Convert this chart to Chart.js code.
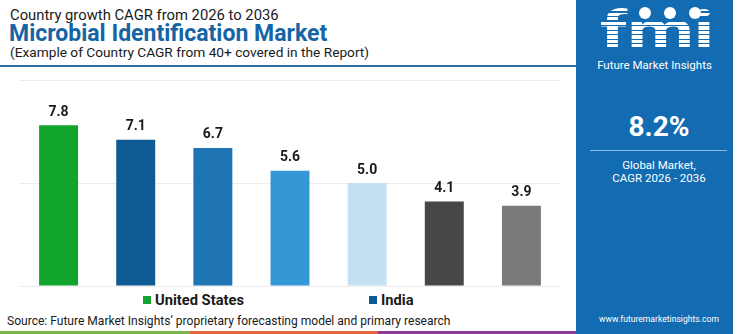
<!DOCTYPE html>
<html>
<head>
<meta charset="utf-8">
<script src="https://cdn.jsdelivr.net/npm/chart.js@4.4.1/dist/chart.umd.min.js"></script>
<style>
  html, body { margin: 0; padding: 0; background: #fff; }
  body { width: 750px; height: 334px; position: relative; overflow: hidden; font-family: Roboto, sans-serif; color: #1a1a1a; }
  .t1 { position: absolute; left: 10px; top: 6px; font-size: 14.8px; white-space: nowrap; }
  .t2 { position: absolute; left: 9px; top: 20px; font-size: 23px; font-weight: 700; color: #1565a6; white-space: nowrap; }
  .t3 { position: absolute; left: 10px; top: 44px; font-size: 13.7px; white-space: nowrap; }
  .rule { position: absolute; left: 0; top: 65px; width: 576px; height: 2px; background: #2d6fa6; }
  #wrap { position: absolute; left: 0; top: 70px; width: 576px; height: 220px; }
  .leg { position: absolute; top: 291px; font-size: 14.7px; font-weight: 700; white-space: nowrap; }
  .leg i { display: inline-block; width: 8px; height: 8px; margin-right: 4px; vertical-align: 1px; }
  .src { position: absolute; left: 7px; top: 314px; font-size: 12.05px; white-space: nowrap; }
  .stripe { position: absolute; top: 331px; height: 3px; }
  .panel { position: absolute; left: 576px; top: 0; width: 157px; height: 334px; background: #136cb1; color: #fff; }
  .logo { position: absolute; left: 24px; top: 4px; font-size: 54px; font-weight: 700; line-height: 1;
          transform: scale(1.42, 1); transform-origin: left top;
          background: repeating-linear-gradient(to bottom, #fff 0 3px, transparent 3px 4.5px);
          -webkit-background-clip: text; background-clip: text; color: transparent; }
  .dot { position: absolute; top: 7px; width: 12px; height: 12px; border-radius: 50%; background: #fff; }
  .fmi { position: absolute; left: 0; width: 157px; top: 58px; text-align: center; font-size: 11.5px; }
  .big { position: absolute; left: 9px; width: 148px; top: 110px; text-align: center; font-size: 28px; font-weight: 700; }
  .pline { position: absolute; left: 14px; top: 150px; width: 137px; height: 1px; background: #8ab9e2; }
  .glob { position: absolute; left: 9px; width: 148px; top: 159px; text-align: center; font-size: 11.5px; line-height: 13px; }
  .www { position: absolute; left: 9px; width: 148px; top: 314px; text-align: center; font-size: 8.6px; }
</style>
</head>
<body>
<div class="t1">Country growth CAGR from 2026 to 2036</div>
<div class="t2">Microbial Identification Market</div>
<div class="t3">(Example of Country CAGR from 40+ covered in the Report)</div>
<div class="rule"></div>

<div id="wrap"><canvas id="chart"></canvas></div>

<div class="leg" style="left:143px"><i style="background:#12a52d"></i>United States</div>
<div class="leg" style="left:369px"><i style="background:#0e5a93"></i>India</div>

<div class="src">Source: Future Market Insights’ proprietary forecasting model and primary research</div>
<div class="stripe" style="left:0;width:190px;background:#7cb548"></div>
<div class="stripe" style="left:190px;width:188px;background:#e0683a"></div>
<div class="stripe" style="left:378px;width:198px;background:#8d3b94"></div>

<div class="panel">
  <div class="logo">fmi</div>
  <div class="dot" style="left:63px"></div>
  <div class="dot" style="left:88px"></div>
  <div class="dot" style="left:113px"></div>
  <div class="fmi">Future Market Insights</div>
  <div class="big">8.2%</div>
  <div class="pline"></div>
  <div class="glob">Global Market,<br>CAGR 2026 - 2036</div>
  <div class="www">www.futuremarketinsights.com</div>
</div>

<script>
// ================= DATA =================
const countries = ["United States", "India", "", "", "", "", ""];
const cagr = [7.8, 7.1, 6.7, 5.6, 5.0, 4.1, 3.9];
const barColors = ["#12a52d", "#0e5a93", "#1f74b3", "#3497d6", "#c4e1f3", "#474747", "#7a7a7a"];
const yTicks = [0, 5, 10];

// ---- value labels above bars ----
const valueLabels = {
  id: "valueLabels",
  afterDatasetsDraw(chart) {
    const ctx = chart.ctx;
    const meta = chart.getDatasetMeta(0);
    ctx.save();
    ctx.font = "bold 14px Roboto, sans-serif";
    ctx.fillStyle = "#1a1a1a";
    ctx.textAlign = "center";
    ctx.textBaseline = "bottom";
    meta.data.forEach((bar, i) => {
      ctx.fillText(cagr[i].toFixed(1), bar.x, bar.y - 6);
    });
    ctx.restore();
  }
};

new Chart(document.getElementById("chart"), {
  type: "bar",
  data: {
    labels: countries.map((c, i) => c || "c" + i),
    datasets: [{
      data: cagr,
      backgroundColor: barColors,
      borderWidth: 0,
      categoryPercentage: 1,
      barPercentage: 0.505
    }]
  },
  options: {
    responsive: true,
    maintainAspectRatio: false,
    animation: false,
    layout: { padding: { left: 20, right: 16, top: 10, bottom: 4 } },
    plugins: {
      legend: { display: false },
      tooltip: { enabled: false }
    },
    scales: {
      x: { display: false },
      y: {
        min: yTicks[0],
        max: yTicks[yTicks.length - 1],
        ticks: { display: false, stepSize: yTicks[1] - yTicks[0] },
        grid: { color: "#ececec", drawTicks: false },
        border: { display: false }
      }
    }
  },
  plugins: [valueLabels]
});
</script>
</body>
</html>
